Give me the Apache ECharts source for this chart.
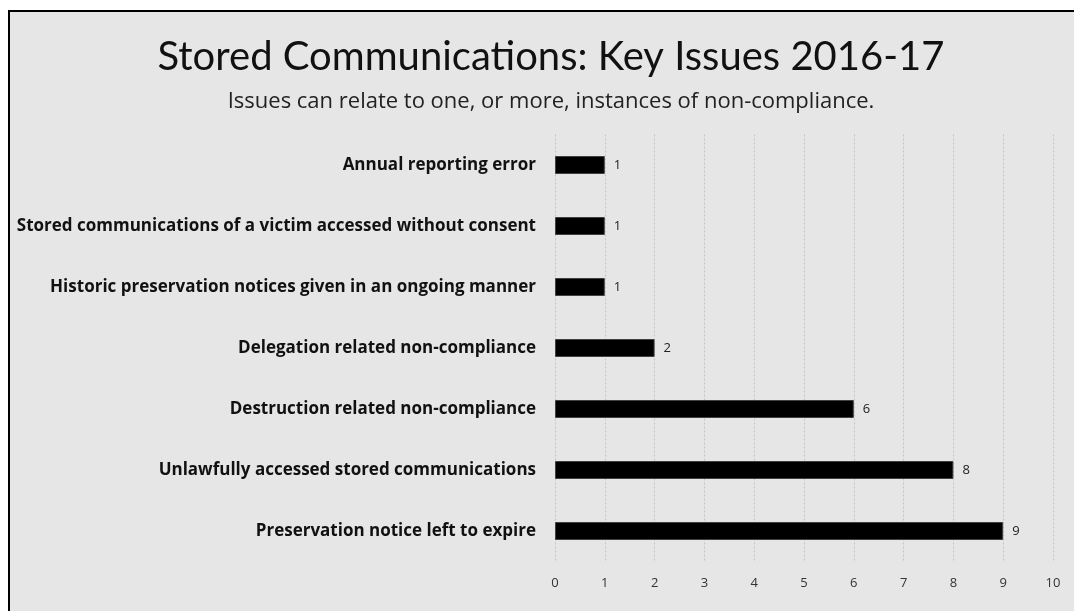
<!DOCTYPE html>
<html><head><meta charset="utf-8">
<script src="https://cdn.jsdelivr.net/npm/echarts@6/dist/echarts.min.js"></script>
<style>
html,body{margin:0;padding:0;background:#fff;width:1074px;height:611px;overflow:hidden;}
#frame{position:absolute;left:8px;top:10px;width:1100px;height:640px;border:2px solid #000;background:#e6e6e6;}
#chart{position:absolute;left:0;top:0;width:1074px;height:611px;}
</style></head>
<body>
<div id="frame"></div>
<div id="chart"></div>
<script>
const categories = [
  "Preservation notice left to expire",
  "Unlawfully accessed stored communications",
  "Destruction related non-compliance",
  "Delegation related non-compliance",
  "Historic preservation notices given in an ongoing manner",
  "Stored communications of a victim accessed without consent",
  "Annual reporting error"
];
const values = [9, 8, 6, 2, 1, 1, 1];
const xTicks = [0, 10, 1];

const chart = echarts.init(document.getElementById('chart'), null, {renderer:'canvas'});
chart.setOption({
  backgroundColor: 'transparent',
  animation: false,
  title: [{
    text: 'Stored Communications: Key Issues 2016-17',
    left: 546, top: 32, textAlign: 'center',
    textStyle: {fontFamily: 'Lato', fontWeight: 'normal', fontSize: 40, color: '#111'}
  },{
    text: 'Issues can relate to one, or more, instances of non-compliance.',
    left: 546, top: 86, textAlign: 'center',
    textStyle: {fontFamily: 'Open Sans', fontWeight: 'normal', fontSize: 22, color: '#222'}
  }],
  grid: {left: 555, right: 21, top: 134.5, bottom: 49.5, containLabel: false},
  xAxis: {
    type: 'value', min: xTicks[0], max: xTicks[1], interval: xTicks[2],
    axisLine: {show: false}, axisTick: {show: false},
    axisLabel: {fontFamily: 'Open Sans', fontSize: 13, color: '#333', margin: 15},
    splitLine: {show: true, lineStyle: {color: '#c4c4c4', type: [2, 2], width: 1}}
  },
  yAxis: {
    type: 'category', data: categories,
    axisLine: {show: false}, axisTick: {show: false},
    axisLabel: {fontFamily: 'Open Sans', fontWeight: 'bold', fontSize: 17, color: '#111', margin: 19}
  },
  series: [{
    type: 'bar', data: values, barWidth: 18,
    itemStyle: {color: '#000', borderColor: '#404040', borderWidth: 1},
    label: {show: true, position: 'right', distance: 9, fontFamily: 'Open Sans', fontSize: 13, color: '#222'}
  }]
});
</script>
</body></html>
